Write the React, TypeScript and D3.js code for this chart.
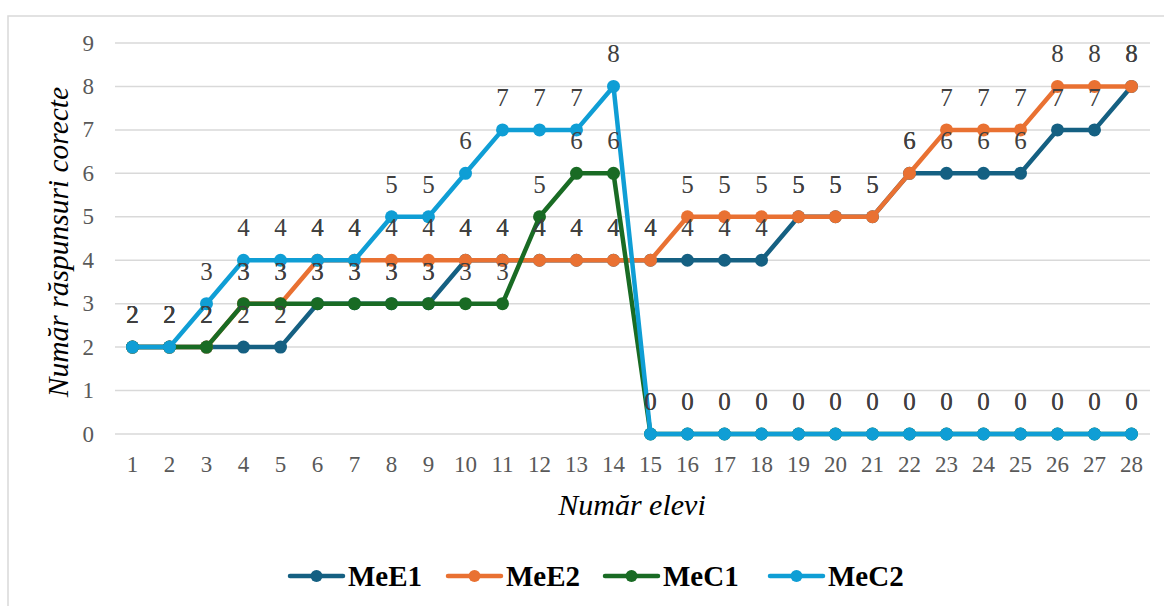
import React from "react";
import * as d3 from "d3";

const categories = Array.from({ length: 28 }, (_, i) => String(i + 1));
const seriesNames = ["MeE1", "MeE2", "MeC1", "MeC2"];
const MeE1 = [2, 2, 2, 2, 2, 3, 3, 3, 3, 4, 4, 4, 4, 4, 4, 4, 4, 4, 5, 5, 5, 6, 6, 6, 6, 7, 7, 8];
const MeE2 = [2, 2, 2, 3, 3, 4, 4, 4, 4, 4, 4, 4, 4, 4, 4, 5, 5, 5, 5, 5, 5, 6, 7, 7, 7, 8, 8, 8];
const MeC1 = [2, 2, 2, 3, 3, 3, 3, 3, 3, 3, 3, 5, 6, 6, 0, 0, 0, 0, 0, 0, 0, 0, 0, 0, 0, 0, 0, 0];
const MeC2 = [2, 2, 3, 4, 4, 4, 4, 5, 5, 6, 7, 7, 7, 8, 0, 0, 0, 0, 0, 0, 0, 0, 0, 0, 0, 0, 0, 0];
const yTicks = [0, 1, 2, 3, 4, 5, 6, 7, 8, 9];
const colors = ["#156082", "#E97132", "#196B24", "#0F9ED5"];

const W = 1164;
const H = 606;
const serif = "Liberation Serif, Tinos, DejaVu Serif, serif";
const legendStarts = [290, 448, 605, 770];

export default function App() {
  const seriesValues = [MeE1, MeE2, MeC1, MeC2];
  const x = d3.scalePoint<string>().domain(categories).range([114, 1150]).padding(0.5);
  const y = d3.scaleLinear().domain([0, 9]).range([434, 43]);
  const line = d3
    .line<number>()
    .x((_, i) => x(categories[i]) as number)
    .y((d) => y(d));

  return (
    <svg width={W} height={H} style={{ position: "absolute", left: 0, top: 0, background: "#fff" }}>
      <rect x={0} y={0} width={W} height={H} fill="#fff" />
      <rect x={8} y={16} width={W + 20} height={H + 20} fill="none" stroke="#d9d9d9" strokeWidth={1.5} />
      {yTicks.map((t) => (
        <g key={t}>
          <line x1={115} x2={1150} y1={y(t)} y2={y(t)} stroke="#d9d9d9" strokeWidth={1.5} />
          <text x={94} y={y(t) + 7.5} textAnchor="end" style={{ fontFamily: serif }} fontSize={23} fill="#595959">
            {t}
          </text>
        </g>
      ))}
      {categories.map((c) => (
        <text key={c} x={x(c)} y={472} textAnchor="middle" style={{ fontFamily: serif }} fontSize={23} fill="#595959">
          {c}
        </text>
      ))}
      {seriesValues.map((vals, si) => (
        <g key={si}>
          <path d={line(vals) as string} fill="none" stroke={colors[si]} strokeWidth={4.5} strokeLinejoin="round" />
          {vals.map((v, i) => (
            <circle key={i} cx={x(categories[i])} cy={y(v)} r={6.5} fill={colors[si]} />
          ))}
        </g>
      ))}
      {seriesValues.map((vals, si) => (
        <g key={"l" + si}>
          {vals.map((v, i) => (
            <text
              key={i}
              x={x(categories[i])}
              y={y(v) - 24}
              textAnchor="middle"
              style={{ fontFamily: serif }}
              fontSize={25}
              fill="#404040"
            >
              {v}
            </text>
          ))}
        </g>
      ))}
      <text
        transform={`translate(${68},${242}) rotate(-90)`}
        textAnchor="middle"
        style={{ fontFamily: serif }}
        fontStyle="italic"
        fontSize={29.5}
        fill="#000"
      >
        Număr răspunsuri corecte
      </text>
      <text x={632} y={515} textAnchor="middle" style={{ fontFamily: serif }} fontStyle="italic" fontSize={30} fill="#000">
        Număr elevi
      </text>
      {seriesNames.map((n, i) => {
        const lx = legendStarts[i];
        return (
          <g key={n}>
            <line x1={lx} x2={lx + 53} y1={576} y2={576} stroke={colors[i]} strokeWidth={4.5} strokeLinecap="round" />
            <circle cx={lx + 26.5} cy={576} r={6} fill={colors[i]} />
            <text x={lx + 58} y={586} style={{ fontFamily: serif }} fontWeight="bold" fontSize={29} fill="#000">
              {n}
            </text>
          </g>
        );
      })}
    </svg>
  );
}
